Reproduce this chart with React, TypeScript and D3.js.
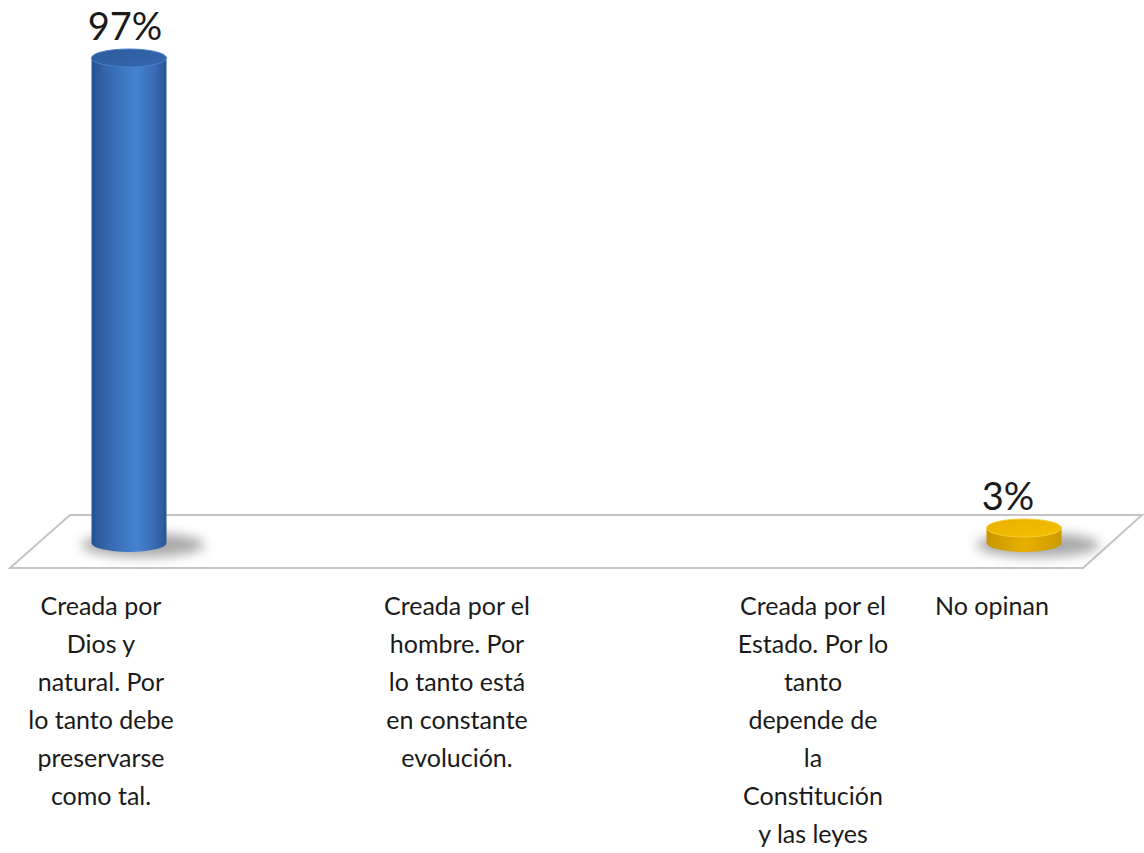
import React from "react";
import * as d3 from "d3";

const categories = [
  "Creada por Dios y natural. Por lo tanto debe preservarse como tal.",
  "Creada por el hombre. Por lo tanto está en constante evolución.",
  "Creada por el Estado. Por lo tanto depende de la Constitución y las leyes",
  "No opinan",
];
const categoryLines = [
  ["Creada por", "Dios y", "natural. Por", "lo tanto debe", "preservarse", "como tal."],
  ["Creada por el", "hombre. Por", "lo tanto está", "en constante", "evolución."],
  ["Creada por el", "Estado. Por lo", "tanto", "depende de", "la", "Constitución", "y las leyes"],
  ["No opinan"],
];
const values = [0.97, 0, 0, 0.03];

const W = 1144;
const H = 853;

export default function App() {
  const x = d3.scalePoint<string>().domain(categories).range([129, 1024]);
  const labelX = d3.scaleOrdinal<string, number>().domain(categories).range([101, 457, 813, 992]);
  const y = d3.scaleLinear().domain([0, 1]).range([543, 43]);
  const rx = 37.5;
  const ry = 9;
  const fmt = d3.format(".0%");

  const floorTopY = 515;
  const floorBotY = 568;
  const floor = d3.path();
  floor.moveTo(70, floorTopY);
  floor.lineTo(1142, floorTopY);
  floor.lineTo(1083, floorBotY);
  floor.lineTo(10, floorBotY);
  floor.closePath();

  const colors = [
    { side: "blue", top: "blueTop", rim: "#4a80c8" },
    { side: "blue", top: "blueTop", rim: "#4a80c8" },
    { side: "blue", top: "blueTop", rim: "#4a80c8" },
    { side: "gold", top: "goldTop", rim: "#f8cc30" },
  ];

  return (
    <svg width={W} height={H} style={{ display: "block", position: "absolute", left: 0, top: 0, background: "#fff" }}>
      <defs>
        <linearGradient id="blue" x1="0" x2="1" y1="0" y2="0">
          <stop offset="0" stopColor="#27538f" />
          <stop offset="0.2" stopColor="#3366ad" />
          <stop offset="0.6" stopColor="#4683d0" />
          <stop offset="0.85" stopColor="#3769b2" />
          <stop offset="1" stopColor="#2a5592" />
        </linearGradient>
        <linearGradient id="blueTop" x1="0" x2="1" y1="0" y2="1">
          <stop offset="0" stopColor="#2d5b9c" />
          <stop offset="1" stopColor="#3568b0" />
        </linearGradient>
        <linearGradient id="gold" x1="0" x2="1" y1="0" y2="0">
          <stop offset="0" stopColor="#c89600" />
          <stop offset="0.5" stopColor="#e8b000" />
          <stop offset="1" stopColor="#cc9a00" />
        </linearGradient>
        <linearGradient id="goldTop" x1="0" x2="1" y1="0" y2="1">
          <stop offset="0" stopColor="#e9b000" />
          <stop offset="1" stopColor="#f5c000" />
        </linearGradient>
        <filter id="blur" x="-50%" y="-100%" width="200%" height="300%">
          <feGaussianBlur stdDeviation="6" />
        </filter>
      </defs>
      <path d={floor.toString()} fill="#fff" stroke="#c4c4c4" strokeWidth={2} />
      {categories.map((c, i) => {
        const v = values[i];
        if (!v) return null;
        const cx = x(c)!;
        const y0 = y(0);
        const y1 = y(v);
        const bodyD = `M${cx - rx},${y1} L${cx - rx},${y0} A${rx},${ry} 0 0 0 ${cx + rx},${y0} L${cx + rx},${y1} Z`;
        return (
          <g key={c}>
            <ellipse cx={cx + 14} cy={y0 + 2} rx={rx + 24} ry={ry + 3} fill="#7a7a7a" opacity={0.65} filter="url(#blur)" />
            <path d={bodyD} fill={`url(#${colors[i].side})`} />
            <ellipse cx={cx} cy={y1} rx={rx} ry={ry} fill={`url(#${colors[i].top})`} stroke={colors[i].rim} strokeWidth={1} />
          </g>
        );
      })}
      {categories.map((c, i) =>
        values[i] ? (
          <text
            key={"v" + c}
            x={x(c)! - (i === 0 ? 4 : 16)}
            y={y(values[i]) - 18}
            textAnchor="middle"
            fontFamily="Lato, sans-serif"
            fontSize={38}
            fill="#1a1a1a"
          >
            {fmt(values[i])}
          </text>
        ) : null
      )}
      {categories.map((c, i) => (
        <text
          key={"l" + c}
          x={labelX(c)}
          y={615}
          textAnchor="middle"
          fontFamily="Lato, sans-serif"
          fontSize={25}
          fill="#1a1a1a"
        >
          {categoryLines[i].map((ln, j) => (
            <tspan key={j} x={labelX(c)} dy={j === 0 ? 0 : 38}>
              {ln}
            </tspan>
          ))}
        </text>
      ))}
    </svg>
  );
}
